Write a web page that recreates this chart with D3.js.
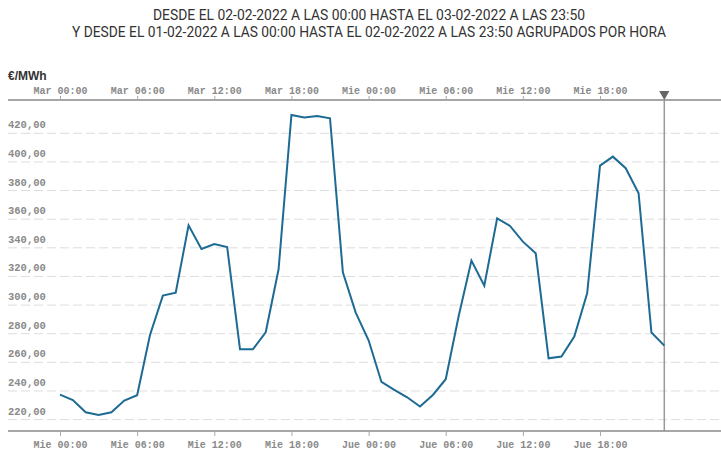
<!DOCTYPE html>
<html>
<head>
<meta charset="utf-8">
<script src="https://cdn.jsdelivr.net/npm/d3@7"></script>
<style>
  body { margin: 0; background: #fff; }
  .tick text { font-family: "Liberation Mono", "DejaVu Sans Mono", monospace; }
</style>
</head>
<body>
<svg class="chart_svg"></svg>
<script>
// hourly price, 48 points (Mar/Mie on top, Mie/Jue below)
const hours = d3.range(48);
const prices = [
  237.5, 233.7, 225.1, 223.3, 225.1, 233.3, 237.0, 279.1, 306.6, 308.7,
  355.7, 339.2, 342.7, 340.6, 269.1, 269.1, 281.0, 325.0, 432.8, 431.0,
  432.1, 430.5, 322.9, 294.7, 275.4, 246.3, 240.7, 235.6, 229.1, 237.2,
  248.2, 292.0, 331.1, 313.6, 360.6, 355.3, 344.3, 336.2, 262.8, 264.0,
  278.0, 308.2, 397.4, 403.7, 395.6, 378.1, 280.8, 271.7
];
const yTicks = [220, 240, 260, 280, 300, 320, 340, 360, 380, 400, 420];
const xTicks = [0, 6, 12, 18, 24, 30, 36, 42];
const topLabels = ["Mar 00:00", "Mar 06:00", "Mar 12:00", "Mar 18:00", "Mie 00:00", "Mie 06:00", "Mie 12:00", "Mie 18:00"];
const bottomLabels = ["Mie 00:00", "Mie 06:00", "Mie 12:00", "Mie 18:00", "Jue 00:00", "Jue 06:00", "Jue 12:00", "Jue 18:00"];
const titleLines = [
  "DESDE EL 02-02-2022 A LAS 00:00 HASTA EL 03-02-2022 A LAS 23:50",
  "Y DESDE EL 01-02-2022 A LAS 00:00 HASTA EL 02-02-2022 A LAS 23:50 AGRUPADOS POR HORA"
];
const unitLabel = "€/MWh";

const W = 721, H = 467;
const plotLeft = 8, plotRight = 721, plotTop = 100, plotBottom = 431;

const svg = d3.select(".chart_svg").attr("width", W).attr("height", H);

const x = d3.scaleLinear().domain([0, 47]).range([60, 664.3]);
const y = d3.scaleLinear().domain([220, 420]).range([419.6, 133.3]);

// title
svg.selectAll(".title").data(titleLines).join("text")
  .attr("class", "title")
  .attr("x", 369)
  .attr("y", (d, i) => 20 + i * 17)
  .attr("text-anchor", "middle")
  .attr("font-family", "'Liberation Sans Narrow', Roboto, sans-serif")
  .attr("font-size", 14)
  .attr("fill", "#333")
  .attr("textLength", (d, i) => i === 0 ? 432 : 594)
  .attr("lengthAdjust", "spacingAndGlyphs")
  .text(d => d);

// unit
svg.append("text")
  .attr("x", 8).attr("y", 80)
  .attr("font-family", "'Liberation Sans', Arial, sans-serif")
  .attr("font-size", 12).attr("font-weight", "bold")
  .attr("fill", "#333")
  .text(unitLabel);

// gridlines
svg.selectAll(".grid").data(yTicks).join("line")
  .attr("class", "grid")
  .attr("x1", plotLeft).attr("x2", plotRight)
  .attr("y1", d => y(d)).attr("y2", d => y(d))
  .attr("stroke", "#ddd").attr("stroke-width", 1)
  .attr("stroke-dasharray", "9,4");

// y labels
svg.selectAll(".ylab").data(yTicks).join("text")
  .attr("class", "ylab")
  .attr("x", 8).attr("y", d => y(d) - 5)
  .attr("font-family", "'Liberation Mono', 'DejaVu Sans Mono', monospace")
  .attr("font-size", 10.5).attr("font-weight", "bold")
  .attr("fill", "#8a8a8a")
  .text(d => d3.format(".2f")(d).replace(".", ","));

// top axis
const topAxis = svg.append("g")
  .attr("transform", `translate(0,${plotTop})`)
  .call(d3.axisTop(x).tickValues(xTicks).tickFormat((d, i) => topLabels[i]).tickSize(4).tickSizeOuter(0));
// bottom axis
const bottomAxis = svg.append("g")
  .attr("transform", `translate(0,${plotBottom})`)
  .call(d3.axisBottom(x).tickValues(xTicks).tickFormat((d, i) => bottomLabels[i]).tickSize(5).tickSizeOuter(0));

[topAxis, bottomAxis].forEach(g => {
  g.select(".domain").attr("d", `M${plotLeft},0H${plotRight}`).attr("stroke", "#888").attr("stroke-width", 1.5);
  g.selectAll(".tick line").attr("stroke", "#aaa");
  g.selectAll(".tick text").attr("fill", "#8a8a8a").attr("font-size", 10).attr("font-weight", "bold");
});
topAxis.selectAll(".tick text").attr("dy", "0.1em");
bottomAxis.selectAll(".tick text").attr("dy", "0.9em");

// current marker
svg.append("line")
  .attr("x1", x(47)).attr("x2", x(47))
  .attr("y1", plotTop).attr("y2", plotBottom)
  .attr("stroke", "#999").attr("stroke-width", 1.5);
svg.append("path")
  .attr("d", d3.symbol().type(d3.symbolTriangle).size(45))
  .attr("transform", `translate(${x(47)},${plotTop - 6}) rotate(180)`)
  .attr("fill", "#666");

// price line
const line = d3.line().x(d => x(d)).y((d, i) => y(prices[i]));
svg.append("path")
  .datum(hours)
  .attr("d", line)
  .attr("fill", "none")
  .attr("stroke", "#1d6b94")
  .attr("stroke-width", 2);
</script>
</body>
</html>
